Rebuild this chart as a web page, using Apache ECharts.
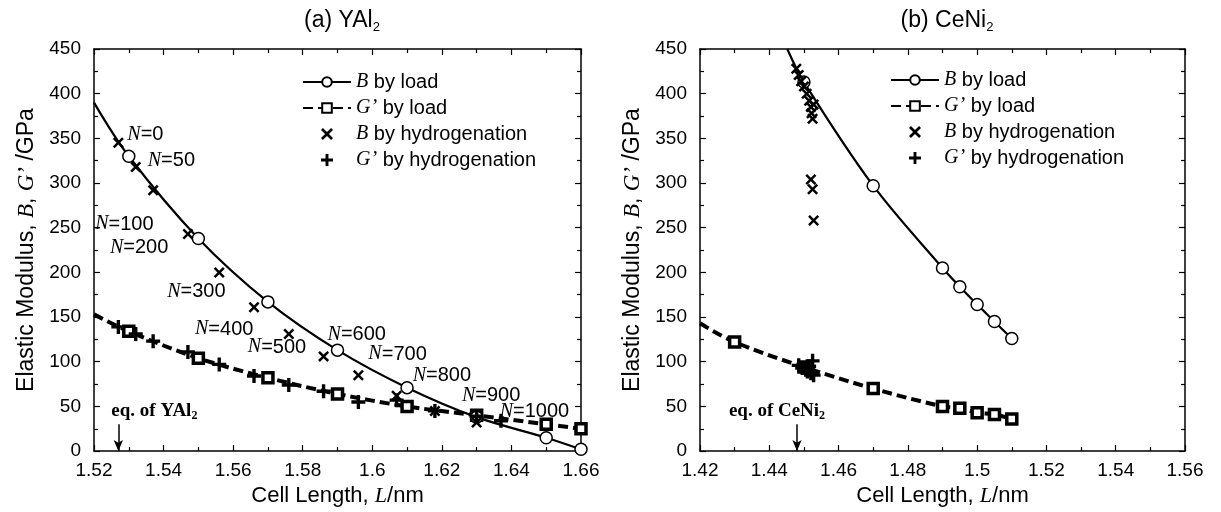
<!DOCTYPE html>
<html>
<head>
<meta charset="utf-8">
<script src="https://cdn.jsdelivr.net/npm/echarts@6/dist/echarts.min.js"></script>
<style>
  html, body { margin: 0; padding: 0; background: #fff; }
  #chart { width: 1221px; height: 512px; }
</style>
</head>
<body>
<div id="chart"></div>
<script>
// ---- (a) YAl2 ----
var yalLoadL = [1.53, 1.55, 1.57, 1.59, 1.61, 1.63, 1.65, 1.66];
var yalBLoad = [330, 238, 167, 113, 71, 38, 15, 2];
var yalGLoad = [134, 104, 82, 64, 50, 40, 30, 25];
var yalBFitStart = [1.52, 390];
var yalGFitStart = [1.52, 153];
var yalN = [0, 50, 100, 200, 300, 400, 500, 600, 700, 800, 900, 1000];
var yalHydL = [1.527, 1.532, 1.537, 1.547, 1.556, 1.566, 1.576, 1.586, 1.596, 1.607, 1.618, 1.630];
var yalBHyd = [345, 318, 292, 243, 200, 161, 131, 106, 85, 62, 45, 32];
var yalGHydL = [1.527, 1.532, 1.537, 1.547, 1.556, 1.566, 1.576, 1.586, 1.596, 1.607, 1.618, 1.630, 1.637];
var yalGHyd = [139, 131, 123, 111, 97, 84, 74, 67, 55, 57, 45, 39, 34];
var yalEqL = 1.527;

// ---- (b) CeNi2 ----
var ceBLoadL = [1.45, 1.47, 1.49, 1.495, 1.50, 1.505, 1.51];
var ceBLoad = [413, 297, 205, 184, 164, 145, 126];
var ceGLoadL = [1.43, 1.45, 1.47, 1.49, 1.495, 1.50, 1.505, 1.51];
var ceGLoad = [122, 94, 70, 50, 48, 43, 41, 36];
var ceBFitStart = [1.4452, 450];
var ceGFitStart = [1.42, 143];
var ceBHydL = [1.4478, 1.4485, 1.4492, 1.4500, 1.4508, 1.4515, 1.4520, 1.4522, 1.4525, 1.4528, 1.4520, 1.4525, 1.4528];
var ceBHyd = [428, 421, 414, 408, 400, 392, 385, 378, 372, 388, 304, 293, 258];
var ceGHydL = [1.4485, 1.4495, 1.4505, 1.4510, 1.4515, 1.4520, 1.4525, 1.4528];
var ceGHyd = [96, 93, 91, 89, 95, 87, 101, 85];
var ceEqL = 1.448;

// axis ranges
var xTicksA = [1.52, 1.66];
var xTicksB = [1.42, 1.56];
var yTicks = [0, 450];

// pixel nudges for the N= labels (text left edge / centre vs. the point)
var nLabelOffset = [[9, -8], [12, -6], [-58, 34], [-78, 14], [-52, 19], [-59, 22],
  [-41, 13], [4, -22], [10, -21], [16, -20], [27, -15], [23, -11]];

var SANS = 'Liberation Sans';
var SERIF = 'Liberation Serif';
var names = ['B by load', "G' by load", 'B by hydrogenation', "G' by hydrogenation"];
var richNames = {
  'B by load': '{i|B} by load',
  "G' by load": "{i|G’} by load",
  'B by hydrogenation': '{i|B} by hydrogenation',
  "G' by hydrogenation": "{i|G’} by hydrogenation"
};
var XMARK = 'path://M0,1.6L1.6,0L5,3.4L8.4,0L10,1.6L6.6,5L10,8.4L8.4,10L5,6.6L1.6,10L0,8.4L3.4,5Z';
var PLUS = 'path://M3.8,0H6.2V3.8H10V6.2H6.2V10H3.8V6.2H0V3.8H3.8Z';

function zip(xs, ys) {
  return xs.map(function (x, i) { return [x, ys[i]]; });
}
function fitLine(start, xs, ys) {
  var d = [{ value: start, symbol: 'none' }];
  return d.concat(zip(xs, ys));
}

var dom = document.getElementById('chart');
var myChart = echarts.init(dom);

function xAxisPair(grid, range) {
  var base = {
    gridIndex: grid,
    type: 'value',
    min: range[0],
    max: range[1],
    interval: 0.02,
    splitLine: { show: false },
    axisLine: { show: true, onZero: false, lineStyle: { color: '#000', width: 1.5 } },
    axisTick: { inside: true, length: 6, lineStyle: { color: '#000', width: 1.2 } },
    minorTick: { show: true, splitNumber: 2, length: 4, lineStyle: { color: '#000', width: 1.2 } },
    axisLabel: { color: '#000', fontSize: 19, fontFamily: SANS, margin: 10 }
  };
  var bottom = Object.assign({}, base, {
    position: 'bottom',
    name: 'Cell Length, {i|L}/nm',
    nameLocation: 'middle',
    nameGap: 33,
    nameTextStyle: {
      color: '#000', fontSize: 22, fontFamily: SANS,
      rich: { i: { fontFamily: SERIF, fontStyle: 'italic', fontSize: 22, color: '#000' } }
    }
  });
  var top = Object.assign({}, base, {
    position: 'top',
    axisLabel: { show: false }
  });
  return [bottom, top];
}

function yAxisPair(grid) {
  var base = {
    gridIndex: grid,
    type: 'value',
    min: yTicks[0],
    max: yTicks[1],
    interval: 50,
    splitLine: { show: false },
    axisLine: { show: true, onZero: false, lineStyle: { color: '#000', width: 1.5 } },
    axisTick: { inside: true, length: 6, lineStyle: { color: '#000', width: 1.2 } },
    minorTick: { show: true, splitNumber: 2, length: 4, lineStyle: { color: '#000', width: 1.2 } },
    axisLabel: { color: '#000', fontSize: 19, fontFamily: SANS, margin: 13 }
  };
  var left = Object.assign({}, base, {
    position: 'left',
    name: 'Elastic Modulus, {i|B}, {i|G’} /GPa',
    nameLocation: 'middle',
    nameGap: 56,
    nameTextStyle: {
      color: '#000', fontSize: 23, fontFamily: SANS,
      rich: { i: { fontFamily: SERIF, fontStyle: 'italic', fontSize: 23, color: '#000' } }
    }
  });
  var right = Object.assign({}, base, {
    position: 'right',
    axisLabel: { show: false }
  });
  return [left, right];
}

var xa = xAxisPair(0, xTicksA);
var xb = xAxisPair(1, xTicksB);
var ya = yAxisPair(0);
var yb = yAxisPair(1);

// pad: [top, right, bottom, left] used to push the centred label sideways
function eqMark(L, label, pad) {
  return {
    silent: true,
    symbol: ['none', 'arrow'],
    symbolSize: [7, 11],
    lineStyle: { color: '#000', width: 1.5, type: 'solid' },
    label: {
      show: true,
      position: 'start',
      distance: 2,
      formatter: label,
      color: '#000',
      fontFamily: SERIF,
      fontWeight: 'bold',
      fontSize: 19,
      padding: pad,
      rich: { s: { fontFamily: SERIF, fontWeight: 'bold', fontSize: 12, padding: [10, 0, 0, 0], verticalAlign: 'top' } }
    },
    data: [[{ coord: [L, 30] }, { coord: [L, 0] }]]
  };
}

function loadSeries(name, grid, data, isB, mark) {
  var s = {
    name: name,
    type: 'line',
    xAxisIndex: grid * 2,
    yAxisIndex: grid * 2,
    data: data,
    smooth: 0.35,
    symbol: isB ? 'circle' : 'rect',
    symbolSize: isB ? 12 : 10,
    showAllSymbol: true,
    itemStyle: isB ? { color: '#fff', borderColor: '#000', borderWidth: 1.5 }
                   : { color: '#fff', borderColor: '#000', borderWidth: 3.5 },
    lineStyle: isB ? { color: '#000', width: 2.2 } : { color: '#000', width: 4, type: [10, 5] },
    z: isB ? 3 : 2
  };
  if (mark) s.markLine = mark;
  return s;
}

function hydSeries(name, grid, data, isB) {
  return {
    name: name,
    type: 'scatter',
    xAxisIndex: grid * 2,
    yAxisIndex: grid * 2,
    data: data,
    symbol: isB ? XMARK : PLUS,
    symbolSize: isB ? 11 : 14,
    itemStyle: { color: '#000', opacity: 1 },
    z: 4
  };
}

var yalBHydData = yalHydL.map(function (L, i) {
  return {
    value: [L, yalBHyd[i]],
    label: {
      show: true,
      position: 'inside',
      align: 'left',
      verticalAlign: 'middle',
      offset: nLabelOffset[i],
      formatter: '{n|N}=' + yalN[i]
    }
  };
});

var bHydA = hydSeries('B by hydrogenation', 0, yalBHydData, true);
bHydA.label = {
  color: '#000', fontSize: 20, fontFamily: SANS,
  rich: { n: { fontFamily: SERIF, fontStyle: 'italic', fontSize: 20, color: '#000' } }
};

function legendAt(left, top) {
  return {
    data: names,
    orient: 'vertical',
    left: left,
    top: top,
    itemWidth: 48,
    itemHeight: 12,
    itemGap: 6,
    selectedMode: false,
    formatter: function (n) { return richNames[n]; },
    textStyle: {
      color: '#000', fontSize: 20, fontFamily: SANS, lineHeight: 20,
      rich: { i: { fontFamily: SERIF, fontStyle: 'italic', fontSize: 20, color: '#000' } }
    }
  };
}

var titleStyle = {
  color: '#000', fontSize: 23, fontWeight: 'normal', fontFamily: SANS,
  rich: { s: { fontSize: 13, fontFamily: SANS, color: '#000', padding: [13, 0, 0, 0], verticalAlign: 'top' } }
};

var option = {
  animation: false,
  backgroundColor: '#fff',
  title: [
    { text: '(a) YAl{s|2}', left: 337, top: 3, textAlign: 'center', textStyle: titleStyle },
    { text: '(b) CeNi{s|2}', left: 942, top: 3, textAlign: 'center', textStyle: titleStyle }
  ],
  legend: [legendAt(297, 67), legendAt(885, 65)],
  grid: [
    { left: 94, top: 49, width: 487, height: 403 },
    { left: 700, top: 49, width: 485, height: 403 }
  ],
  xAxis: [xa[0], xa[1], xb[0], xb[1]],
  yAxis: [ya[0], ya[1], yb[0], yb[1]],
  series: [
    loadSeries('B by load', 0, fitLine(yalBFitStart, yalLoadL, yalBLoad), true),
    loadSeries("G' by load", 0, fitLine(yalGFitStart, yalLoadL, yalGLoad), false,
      eqMark(yalEqL, 'eq. of YAl{s|2}', [0, 0, 0, 72])),
    bHydA,
    hydSeries("G' by hydrogenation", 0, zip(yalGHydL, yalGHyd), false),

    loadSeries('B by load', 1, fitLine(ceBFitStart, ceBLoadL, ceBLoad), true),
    loadSeries("G' by load", 1, fitLine(ceGFitStart, ceGLoadL, ceGLoad), false,
      eqMark(ceEqL, 'eq. of CeNi{s|2}', [0, 40, 0, 0])),
    hydSeries('B by hydrogenation', 1, zip(ceBHydL, ceBHyd), true),
    hydSeries("G' by hydrogenation", 1, zip(ceGHydL, ceGHyd), false)
  ]
};

if (option && typeof option === 'object') {
  myChart.setOption(option, true);
}
</script>
</body>
</html>
